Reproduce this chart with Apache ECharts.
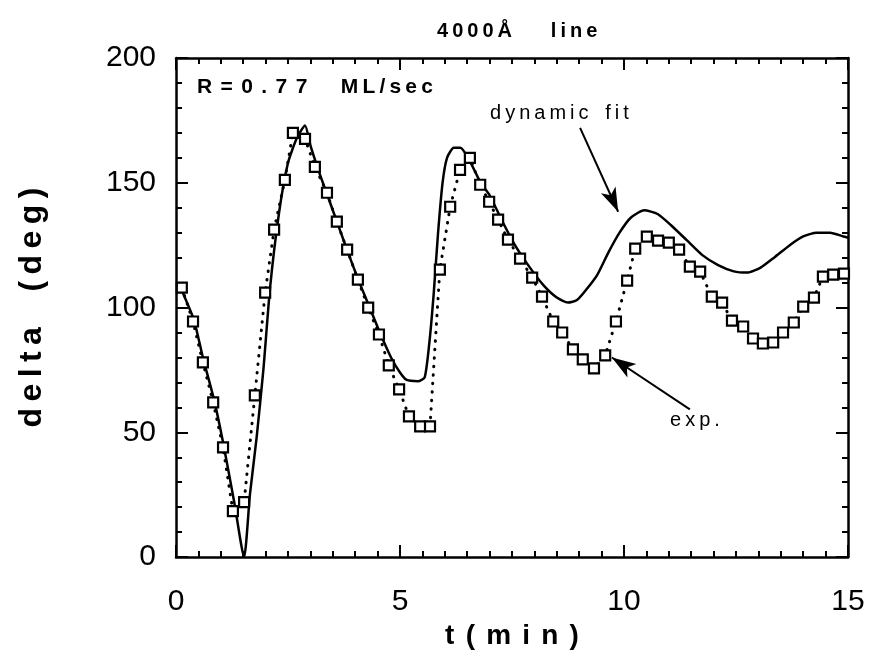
<!DOCTYPE html>
<html>
<head>
<meta charset="utf-8">
<script src="https://cdn.jsdelivr.net/npm/echarts@6/dist/echarts.min.js"></script>
<style>
  html, body { margin: 0; padding: 0; background: #fff; }
  #chart { width: 870px; height: 655px; }
</style>
</head>
<body>
<div id="chart"></div>
<script>
// 实验数据 (exp.)：时间 t(min) 与 delta(deg)
var expT = [0.13, 0.38, 0.60, 0.83, 1.05, 1.27, 1.52, 1.76, 1.99, 2.19, 2.43, 2.61, 2.88, 3.10, 3.37, 3.59, 3.82, 4.06, 4.29, 4.53, 4.75, 4.98, 5.20, 5.45, 5.67,
            5.89, 6.12, 6.34, 6.56, 6.79, 6.99, 7.19, 7.41, 7.68, 7.95, 8.17, 8.42, 8.62, 8.86, 9.08, 9.33, 9.58, 9.82,
            10.07, 10.25, 10.51, 10.76, 11.00, 11.23, 11.47, 11.70, 11.96, 12.19, 12.41, 12.66, 12.88, 13.10, 13.33, 13.55, 13.79, 14.00, 14.24, 14.44, 14.67, 14.91];
var expDelta = [108, 94.4, 78, 62, 44, 18.4, 22, 64.8, 106, 131.2, 151.2, 170, 167.6, 156.4, 146, 134.4, 123.2, 111.2, 100, 89.2, 76.8, 67.2, 56.4, 52.4, 52.4,
                115.2, 140.4, 155.2, 160, 149.2, 142.4, 135.2, 127.2, 119.6, 112, 104.4, 94.4, 90, 83.2, 79.2, 75.6, 80.8, 94.4,
                110.8, 123.6, 128.4, 126.8, 126, 123.2, 116.4, 114.4, 104.4, 102, 94.8, 92.4, 87.6, 85.6, 86, 90, 94, 100.4, 104, 112.4, 113.2, 113.6];

// 拟合曲线 (dynamic fit)
var fitT = [0.1, 0.4, 0.6, 0.85, 1.05, 1.3, 1.52, 1.65, 1.8, 1.95, 2.1, 2.3, 2.5, 2.7, 2.88, 3.0, 3.2, 3.4, 3.6, 3.8, 4.05, 4.3, 4.55, 4.8, 5.0, 5.15, 5.4, 5.55,
            5.65, 5.75, 5.85, 5.95, 6.05, 6.2, 6.35, 6.55, 6.8, 7.0, 7.3, 7.6, 7.9, 8.2, 8.5, 8.75, 8.95, 9.15, 9.4, 9.65, 9.9, 10.15, 10.45, 10.75,
            11.05, 11.4, 11.75, 12.1, 12.45, 12.75, 13.05, 13.35, 13.7, 14.0, 14.3, 14.6, 14.9, 15.0];
var fitDelta = [108, 95, 80, 63, 46, 22, 0, 25, 48, 75, 108, 138, 158, 168, 173, 165, 154, 144, 134, 124, 112, 101, 90, 80, 74, 71, 70.5, 72,
                85, 105, 130, 150, 160, 164, 164, 159, 150, 145, 134, 124, 116, 109, 104, 102, 103, 107, 113, 122, 130, 136, 139, 137.5,
                133, 127, 121, 117, 114.5, 114, 116, 120, 125, 128.5, 130, 130, 128.5, 128];

// 刻度
var xTicks = [0, 5, 10, 15];
var yTicks = [0, 50, 100, 150, 200];

var FONT = "'Liberation Sans', Arial, sans-serif";
// 字间距用细空格模拟
function sp(s, n) { return s.split('').join('\u2009'.repeat(n)); }

var chartDom = document.getElementById('chart');
var myChart = echarts.init(chartDom, null, { renderer: 'canvas' });

var frameAxis = {
  axisLine: { show: true, onZero: false, lineStyle: { color: '#000', width: 2.5 } },
  axisTick: { show: true, inside: true, length: 12, lineStyle: { color: '#000', width: 2 } },
  minorTick: { show: true, length: 6, lineStyle: { color: '#000', width: 2 } },
  splitLine: { show: false }
};

var option = {
  animation: false,
  backgroundColor: '#fff',
  title: {
    text: sp('4000Å', 1) + '       ' + sp('line', 1),
    left: 432,
    top: 16,
    textStyle: { fontFamily: FONT, fontWeight: 'bold', fontSize: 20, color: '#000' }
  },
  grid: { left: 176, right: 22, top: 58, bottom: 97 },
  xAxis: [
    Object.assign({}, frameAxis, {
      type: 'value', min: 0, max: 15, interval: 5, position: 'bottom',
      minorTick: Object.assign({}, frameAxis.minorTick, { splitNumber: 10 }),
      axisLabel: {
        margin: 30, fontSize: 30, fontFamily: FONT, color: '#000',
        customValues: xTicks
      },
      name: sp('t(min)', 2),
      nameLocation: 'middle',
      nameGap: 60,
      nameTextStyle: { fontFamily: FONT, fontWeight: 'bold', fontSize: 28, color: '#000' }
    }),
    Object.assign({}, frameAxis, {
      type: 'value', min: 0, max: 15, interval: 5, position: 'top',
      minorTick: Object.assign({}, frameAxis.minorTick, { splitNumber: 10 }),
      axisLabel: { show: false }
    })
  ],
  yAxis: [
    Object.assign({}, frameAxis, {
      type: 'value', min: 0, max: 200, interval: 50, position: 'left',
      minorTick: Object.assign({}, frameAxis.minorTick, { splitNumber: 5 }),
      axisLabel: {
        margin: 20, fontSize: 30, fontFamily: FONT, color: '#000',
        customValues: yTicks
      },
      name: sp('delta', 1) + '    ' + sp('(deg)', 1),
      nameLocation: 'middle',
      nameGap: 128,
      nameTextStyle: { fontFamily: FONT, fontWeight: 'bold', fontSize: 32, color: '#000' }
    }),
    Object.assign({}, frameAxis, {
      type: 'value', min: 0, max: 200, interval: 50, position: 'right',
      minorTick: Object.assign({}, frameAxis.minorTick, { splitNumber: 5 }),
      axisLabel: { show: false }
    })
  ],
  graphic: [
    {
      type: 'text', left: 197, top: 77, silent: true,
      style: {
        text: sp('R=0.77', 2) + '\u2009     ' + sp('ML/sec', 1),
        font: 'bold 21px ' + FONT, fill: '#000'
      }
    },
    {
      type: 'text', left: 490, top: 103, silent: true,
      style: { text: sp('dynamic', 1) + '   ' + sp('fit', 1), font: '20px ' + FONT, fill: '#000' }
    },
    {
      type: 'text', left: 670, top: 410, silent: true,
      style: { text: sp('exp.', 1), font: '20px ' + FONT, fill: '#000' }
    }
  ],
  series: [
    {
      name: 'dynamic fit',
      type: 'line',
      xAxisIndex: 0, yAxisIndex: 0,
      data: fitT.map(function (t, i) { return [t, fitDelta[i]]; }),
      showSymbol: false,
      smooth: 0.2,
      lineStyle: { color: '#000', width: 2.5 },
      z: 3,
      markLine: {
        silent: true,
        symbol: ['none', 'arrow'],
        symbolSize: [12, 24],
        label: { show: false },
        lineStyle: { color: '#000', width: 2, type: 'solid' },
        data: [
          [{ coord: [9.02, 172] }, { coord: [9.87, 138.4] }],
          [{ coord: [11.47, 59.2] }, { coord: [9.73, 80] }]
        ]
      }
    },
    {
      name: 'exp. dots',
      type: 'line',
      xAxisIndex: 0, yAxisIndex: 0,
      data: expT.map(function (t, i) { return [t, expDelta[i]]; }),
      showSymbol: false,
      lineStyle: { color: '#000', width: 3, type: [0.5, 8], cap: 'round' },
      z: 2
    },
    {
      name: 'exp.',
      type: 'scatter',
      xAxisIndex: 0, yAxisIndex: 0,
      data: expT.map(function (t, i) { return [t, expDelta[i]]; }),
      symbol: 'rect',
      symbolSize: 10,
      itemStyle: { color: '#fff', borderColor: '#000', borderWidth: 2.2, opacity: 1 },
      z: 4
    }
  ]
};

option && myChart.setOption(option);
</script>
</body>
</html>
